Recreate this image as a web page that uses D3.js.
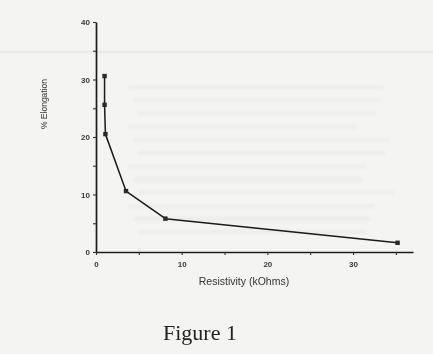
<!DOCTYPE html>
<html>
<head>
<meta charset="utf-8">
<script src="https://cdn.jsdelivr.net/npm/d3@7"></script>
<style>
  html, body { margin: 0; padding: 0; background: #f4f4f3; }
  svg { display: block; }
</style>
</head>
<body>
<div id="chart"></div>
<script>
// values
var resistivity = [1.0, 1.0, 1.1, 3.5, 8.1, 35.2];   // kOhms
var elongation = [30.6, 25.6, 20.5, 10.6, 5.8, 1.6]; // %
var xTicks = [0, 5, 10, 15, 20, 25, 30, 35];
var yTicks = [0, 5, 10, 15, 20, 25, 30, 35, 40];
var xLabel = 'Resistivity (kOhms)';
var yLabel = '% Elongation';
var caption = 'Figure 1';

var width = 433, height = 354;

var svg = d3.select('#chart').append('svg')
    .attr('width', width)
    .attr('height', height);

var defs = svg.append('defs');
defs.append('filter').attr('id', 'scan')
    .append('feGaussianBlur').attr('stdDeviation', 0.4);
defs.append('filter').attr('id', 'ghost')
    .append('feGaussianBlur').attr('stdDeviation', 1.8);

svg.append('rect')
    .attr('width', width).attr('height', height)
    .attr('fill', '#f4f4f3');

// faint show-through of the text on the back of the page
var ghost = svg.append('g').attr('filter', 'url(#ghost)');
d3.range(12).forEach(function (i) {
  ghost.append('rect')
      .attr('x', 128 + (i % 3) * 5)
      .attr('y', 85 + i * 13.2)
      .attr('width', 256 - (i % 4) * 9)
      .attr('height', 4)
      .attr('fill', '#000')
      .attr('opacity', 0.03);
});
svg.append('line')
    .attr('x1', 0).attr('x2', width).attr('y1', 52).attr('y2', 52)
    .attr('stroke', '#e6e6e6').attr('stroke-width', 1.5);

var g = svg.append('g').attr('filter', 'url(#scan)');

var x = d3.scaleLinear().domain([0, 37]).range([96, 413]);
var y = d3.scaleLinear().domain([0, 40]).range([252, 22]);

var xAxis = d3.axisBottom(x)
    .tickValues(xTicks)
    .tickSize(3)
    .tickSizeOuter(0)
    .tickFormat(function (d) { return d % 10 === 0 ? d : ''; });

var yAxis = d3.axisLeft(y)
    .tickValues(yTicks)
    .tickSize(3)
    .tickSizeOuter(0)
    .tickFormat(function (d) { return d % 10 === 0 ? d : ''; });

var gx = g.append('g')
    .attr('transform', 'translate(0,' + y(0) + ')')
    .call(xAxis);
var gy = g.append('g')
    .attr('transform', 'translate(' + x(0) + ',0)')
    .call(yAxis);

[gx, gy].forEach(function (ax) {
  ax.select('.domain').attr('stroke', '#1a1a1a').attr('stroke-width', 1.7);
  ax.selectAll('.tick line').attr('stroke', '#333').attr('stroke-width', 1.1);
  ax.selectAll('.tick text')
      .attr('font-family', 'Liberation Sans, Arial, sans-serif')
      .attr('font-size', 8)
      .attr('font-weight', 'bold')
      .attr('fill', '#3a3a3a');
});
gx.selectAll('.tick text').attr('dy', '1.1em');
gy.selectAll('.tick text').attr('x', -6);

// axis titles
g.append('text')
    .attr('x', 244).attr('y', 285)
    .attr('text-anchor', 'middle')
    .attr('font-family', 'Liberation Sans, Arial, sans-serif')
    .attr('font-size', 10.5)
    .attr('fill', '#333')
    .text(xLabel);

g.append('text')
    .attr('transform', 'translate(47,104) rotate(-90)')
    .attr('text-anchor', 'middle')
    .attr('font-family', 'Liberation Sans, Arial, sans-serif')
    .attr('font-size', 8.5)
    .attr('fill', '#333')
    .text(yLabel);

// data line
var pts = resistivity.map(function (r, i) { return [r, elongation[i]]; });
var line = d3.line()
    .x(function (d) { return x(d[0]); })
    .y(function (d) { return y(d[1]); });

g.append('path')
    .datum(pts)
    .attr('d', line)
    .attr('fill', 'none')
    .attr('stroke', '#1a1a1a')
    .attr('stroke-width', 1.5)
    .attr('stroke-linejoin', 'round');

g.selectAll('.pt')
    .data(pts)
    .enter().append('rect')
    .attr('class', 'pt')
    .attr('x', function (d) { return x(d[0]) - 2.2; })
    .attr('y', function (d) { return y(d[1]) - 2.2; })
    .attr('width', 4.4)
    .attr('height', 4.4)
    .attr('fill', '#2a2a2a');

// caption
g.append('text')
    .attr('x', 163).attr('y', 340)
    .attr('font-family', 'Liberation Serif, Times New Roman, serif')
    .attr('font-size', 22)
    .attr('fill', '#222')
    .text(caption);
</script>
</body>
</html>
